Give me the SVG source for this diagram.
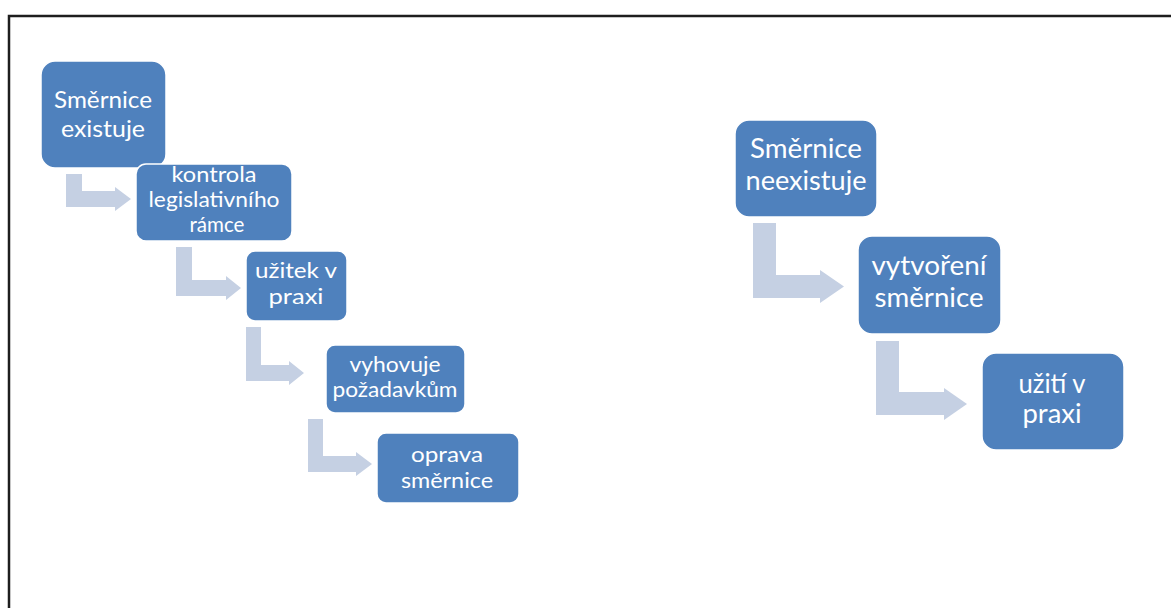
<svg xmlns="http://www.w3.org/2000/svg" width="1171" height="608" viewBox="0 0 1171 608">
  <style>
    .box { fill: #4F81BD; stroke: #FFFFFF; stroke-width: 1.5; }
    .lbl { fill: #FFFFFF; font-family: Lato, "Open Sans", "Liberation Sans", sans-serif; text-anchor: middle; }
    .s1 { font-size: 23px; }
    .s2 { font-size: 21px; }
    .s3 { font-size: 26px; }
    .flow { fill: #C5D0E3; stroke: none; }
  </style>

  <rect width="1171" height="608" fill="#FFFFFF"/>
  <!-- outer frame (runs off the right and bottom edges) -->
  <rect x="9" y="16" width="1200" height="700" fill="none" stroke="#1E1E1E" stroke-width="2.5"/>

  <!-- bent connector arrows -->
  <g id="connectors">
    <polygon class="flow" points="66,174 82,174 82,191 115,191 115,187 131,199 115,211 115,207 66,207"/>
    <polygon class="flow" points="176,247 192,247 192,280 226,280 226,276 241,288 226,300 226,296 176,296"/>
    <polygon class="flow" points="246,327 261,327 261,365 289,365 289,361 304,373 289,385 289,381 246,381"/>
    <polygon class="flow" points="308,419 323,419 323,456 356,456 356,452 372,464 356,476 356,472 308,472"/>
    <polygon class="flow" points="753,223 776,223 776,275 820,275 820,270 844,286.5 820,303 820,298 753,298"/>
    <polygon class="flow" points="876,341 899,341 899,392 944,392 944,388 967,404 944,420 944,415 876,415"/>
  </g>

  <!-- left branch -->
  <g id="n-smernice-existuje">
    <rect class="box" x="41" y="61" width="125" height="107" rx="14"/>
    <text class="lbl s1" x="103" y="108" textLength="98" lengthAdjust="spacingAndGlyphs">Směrnice</text>
    <text class="lbl s1" x="103" y="137" textLength="84" lengthAdjust="spacingAndGlyphs">existuje</text>
  </g>
  <g id="n-kontrola">
    <rect class="box" x="136" y="164" width="156" height="77" rx="10"/>
    <text class="lbl s2" x="214" y="182" textLength="85" lengthAdjust="spacingAndGlyphs">kontrola</text>
    <text class="lbl s2" x="214" y="207" textLength="131" lengthAdjust="spacingAndGlyphs">legislativního</text>
    <text class="lbl s2" x="217" y="232" textLength="55" lengthAdjust="spacingAndGlyphs">rámce</text>
  </g>
  <g id="n-uzitek">
    <rect class="box" x="246" y="251" width="101" height="70" rx="9"/>
    <text class="lbl s2" x="296" y="278" textLength="82" lengthAdjust="spacingAndGlyphs">užitek v</text>
    <text class="lbl s2" x="296" y="304" textLength="55" lengthAdjust="spacingAndGlyphs">praxi</text>
  </g>
  <g id="n-vyhovuje">
    <rect class="box" x="326" y="345" width="139" height="68" rx="9"/>
    <text class="lbl s2" x="395" y="372" textLength="91" lengthAdjust="spacingAndGlyphs">vyhovuje</text>
    <text class="lbl s2" x="395" y="397" textLength="125" lengthAdjust="spacingAndGlyphs">požadavkům</text>
  </g>
  <g id="n-oprava">
    <rect class="box" x="377" y="433" width="142" height="70" rx="9"/>
    <text class="lbl s2" x="447" y="462" textLength="72" lengthAdjust="spacingAndGlyphs">oprava</text>
    <text class="lbl s2" x="447" y="488" textLength="92" lengthAdjust="spacingAndGlyphs">směrnice</text>
  </g>

  <!-- right branch -->
  <g id="n-smernice-neexistuje">
    <rect class="box" x="735" y="120" width="142" height="97" rx="14"/>
    <text class="lbl s3" x="806" y="158" textLength="112" lengthAdjust="spacingAndGlyphs">Směrnice</text>
    <text class="lbl s3" x="806" y="190" textLength="121" lengthAdjust="spacingAndGlyphs">neexistuje</text>
  </g>
  <g id="n-vytvoreni">
    <rect class="box" x="858" y="236" width="143" height="98" rx="14"/>
    <text class="lbl s3" x="929" y="275" textLength="115" lengthAdjust="spacingAndGlyphs">vytvoření</text>
    <text class="lbl s3" x="929" y="307" textLength="109" lengthAdjust="spacingAndGlyphs">směrnice</text>
  </g>
  <g id="n-uziti">
    <rect class="box" x="982" y="353" width="142" height="97" rx="14"/>
    <text class="lbl s3" x="1052" y="393" textLength="67" lengthAdjust="spacingAndGlyphs">užití v</text>
    <text class="lbl s3" x="1052" y="423" textLength="59" lengthAdjust="spacingAndGlyphs">praxi</text>
  </g>
</svg>
